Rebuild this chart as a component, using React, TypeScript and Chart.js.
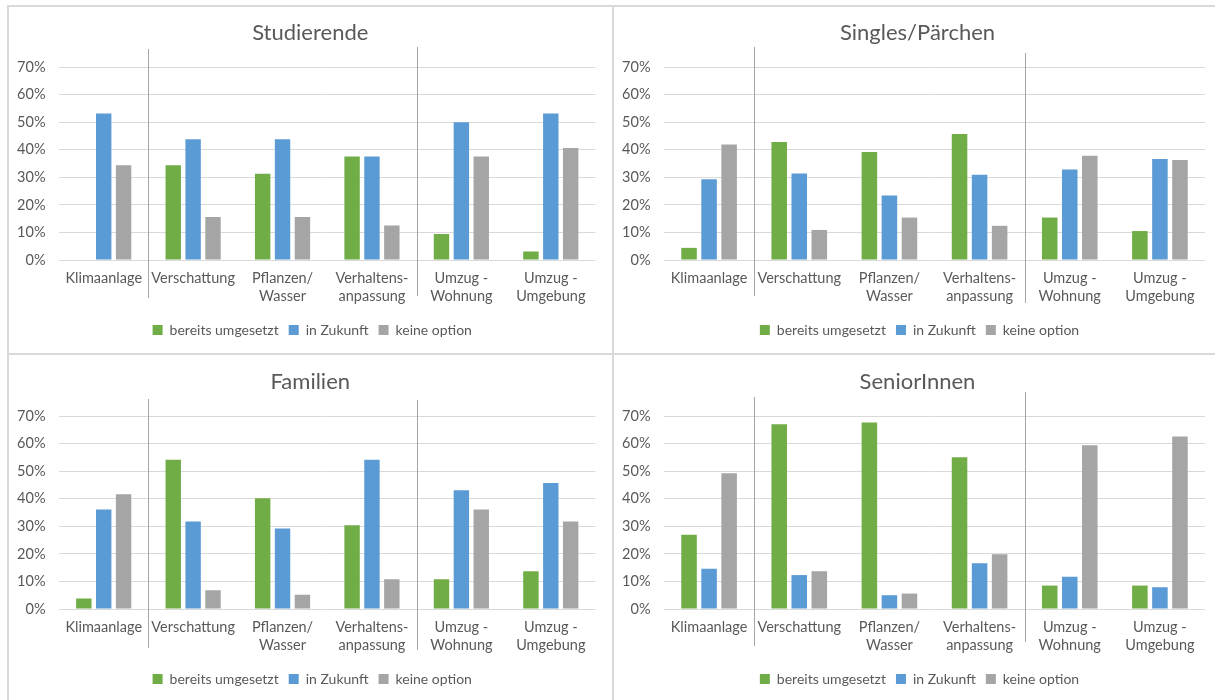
import React, { useEffect, useRef } from "react";
import { Chart, registerables } from "chart.js";

Chart.register(...registerables);

// ---------- data ----------
const categories: (string | string[])[] = [
  "Klimaanlage",
  "Verschattung",
  ["Pflanzen/", "Wasser"],
  ["Verhaltens-", "anpassung"],
  ["Umzug -", "Wohnung"],
  ["Umzug -", "Umgebung"],
];
const seriesNames = ["bereits umgesetzt", "in Zukunft", "keine option"];
const yTickMax = 70;
const yTickStep = 10;

const studierendeUmgesetzt = [0, 34.4, 31.3, 37.5, 9.4, 3.1];
const studierendeZukunft = [53.1, 43.8, 43.8, 37.5, 50.0, 53.1];
const studierendeKeine = [34.4, 15.6, 15.6, 12.5, 37.5, 40.6];

const singlesUmgesetzt = [4.4, 42.8, 39.2, 45.7, 15.4, 10.5];
const singlesZukunft = [29.3, 31.4, 23.4, 30.9, 32.8, 36.6];
const singlesKeine = [41.9, 10.9, 15.4, 12.4, 37.8, 36.3];

const familienUmgesetzt = [3.8, 54.1, 40.2, 30.4, 10.8, 13.7];
const familienZukunft = [36.1, 31.7, 29.2, 54.1, 43.1, 45.7];
const familienKeine = [41.6, 6.8, 5.2, 10.8, 36.1, 31.7];

const seniorenUmgesetzt = [26.9, 67.0, 67.6, 55.0, 8.5, 8.5];
const seniorenZukunft = [14.6, 12.3, 5.0, 16.6, 11.7, 7.9];
const seniorenKeine = [49.2, 13.7, 5.6, 19.9, 59.4, 62.6];

// ---------- styles ----------
const COLORS = ["#70AD47", "#5B9BD5", "#A5A5A5"];
const TEXT = "#595959";
const GRID = "#D9D9D9";
const FRAME = "#D9D9D9";
const SEP = "#A6A6A6";
const FONT = "Lato, 'Open Sans', sans-serif";

Chart.defaults.font.family = FONT;

const separatorPlugin = {
  id: "groupSeparators",
  afterLayout(chart: any, _args: any, opts: any) {
    if (chart.titleBlock) {
      chart.titleBlock.left += opts.titleShift;
      chart.titleBlock.right += opts.titleShift;
    }
    if (chart.legend) {
      chart.legend.left += opts.legendShift;
      chart.legend.right += opts.legendShift;
    }
  },
  afterDraw(chart: any, _args: any, opts: any) {
    const { ctx, chartArea, scales } = chart;
    const xs = scales.x;
    ctx.save();
    ctx.strokeStyle = opts.color;
    ctx.lineWidth = 1;
    (opts.lines || []).forEach((l: any) => {
      const px =
        Math.round((xs.getPixelForValue(l.after) + xs.getPixelForValue(l.after + 1)) / 2) + 0.5;
      ctx.beginPath();
      ctx.moveTo(px, chartArea.top + l.top);
      ctx.lineTo(px, chartArea.bottom + l.bottom);
      ctx.stroke();
    });
    ctx.restore();
  },
};

type PanelProps = {
  title: string;
  series: number[][];
  left: number;
  top: number;
  width: number;
  height: number;
  rightPad: number;
  seps: { after: number; top: number; bottom: number }[];
};

function Panel({ title, series, left, top, width, height, rightPad, seps }: PanelProps) {
  const ref = useRef<HTMLCanvasElement | null>(null);
  useEffect(() => {
    if (!ref.current) return;
    const chart = new Chart(ref.current, {
      type: "bar",
      data: {
        labels: categories as any,
        datasets: series.map((d, i) => ({
          label: seriesNames[i],
          data: d,
          backgroundColor: COLORS[i],
          borderWidth: 0,
          categoryPercentage: 0.667,
          barPercentage: 0.775,
        })),
      },
      options: {
        animation: false,
        responsive: false,
        devicePixelRatio: 1,
        layout: { padding: { left: 0, right: rightPad, top: 0, bottom: height - 340 } },
        scales: {
          x: {
            grid: { display: false, drawTicks: false, tickLength: 0 },
            border: { display: false },
            ticks: {
              color: TEXT,
              font: { size: 14.5, lineHeight: 1.27 },
              padding: 9,
              maxRotation: 0,
              autoSkip: false,
            },
            afterFit: (s: any) => {
              s.height = 53;
            },
          },
          y: {
            min: 0,
            max: yTickMax,
            border: { display: false },
            grid: { color: GRID, drawTicks: false, tickLength: 0, lineWidth: 1 },
            ticks: {
              stepSize: yTickStep,
              color: TEXT,
              font: { size: 14.5 },
              padding: 13.5,
              callback: (v: any) => v + "%",
            },
            afterFit: (s: any) => {
              s.width = 50;
            },
          },
        },
        plugins: {
          title: {
            display: true,
            text: title,
            color: TEXT,
            font: { size: 22, weight: "normal", lineHeight: 1.2 },
            padding: { top: 12.8, bottom: 20.8 },
          },
          legend: {
            position: "bottom",
            labels: {
              color: TEXT,
              font: { size: 14 },
              boxWidth: 10,
              boxHeight: 10,
              padding: 10,
            },
          },
          tooltip: { enabled: false },
          groupSeparators: { color: SEP, lines: seps, titleShift: 8, legendShift: 10 },
        } as any,
      },
      plugins: [separatorPlugin],
    });
    return () => chart.destroy();
  }, []);
  return (
    <canvas
      ref={ref}
      width={width}
      height={height}
      style={{ position: "absolute", left, top, width, height }}
    />
  );
}

export default function App() {
  const line = (l: number, t: number, w: number, h: number) => (
    <div style={{ position: "absolute", left: l, top: t, width: w, height: h, background: FRAME }} />
  );
  return (
    <div
      style={{
        position: "absolute",
        left: 0,
        top: 0,
        width: 1215,
        height: 700,
        overflow: "hidden",
        background: "#fff",
      }}
    >
      {line(7, 5, 1208, 2)}
      {line(7, 5, 2, 695)}
      {line(612, 5, 2, 695)}
      {line(7, 353, 1208, 2)}
      <Panel
        title="Studierende"
        series={[studierendeUmgesetzt, studierendeZukunft, studierendeKeine]}
        left={9}
        top={7}
        width={603}
        height={346}
        rightPad={16.5}
        seps={[
          { after: 0, top: -18, bottom: 38 },
          { after: 3, top: -20, bottom: 36 },
        ]}
      />
      <Panel
        title="Singles/Pärchen"
        series={[singlesUmgesetzt, singlesZukunft, singlesKeine]}
        left={614}
        top={7}
        width={605}
        height={346}
        rightPad={14}
        seps={[
          { after: 0, top: -20, bottom: 36 },
          { after: 3, top: -14, bottom: 43 },
        ]}
      />
      <Panel
        title="Familien"
        series={[familienUmgesetzt, familienZukunft, familienKeine]}
        left={9}
        top={356}
        width={603}
        height={344}
        rightPad={16.5}
        seps={[
          { after: 0, top: -17, bottom: 39 },
          { after: 3, top: -16, bottom: 41 },
        ]}
      />
      <Panel
        title="SeniorInnen"
        series={[seniorenUmgesetzt, seniorenZukunft, seniorenKeine]}
        left={614}
        top={356}
        width={605}
        height={344}
        rightPad={14}
        seps={[
          { after: 0, top: -19, bottom: 37 },
          { after: 3, top: -24, bottom: 33 },
        ]}
      />
    </div>
  );
}
